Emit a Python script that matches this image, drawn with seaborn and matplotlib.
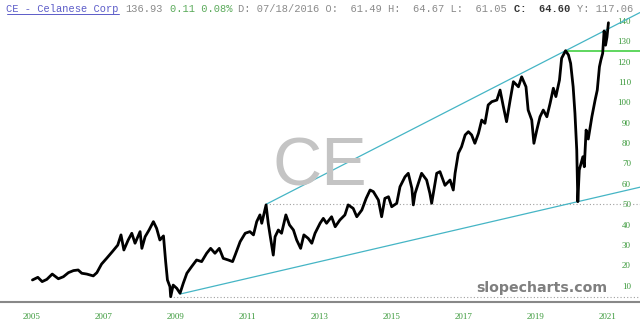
import numpy as np
import pandas as pd
import matplotlib
matplotlib.use('Agg')
import matplotlib.pyplot as plt
import seaborn as sns

# CE daily closes (decimal year, price)
year = [2005.02, 2005.17, 2005.29, 2005.42, 2005.57, 2005.74, 2005.88, 2006.02, 2006.16, 2006.29,
        2006.39, 2006.53, 2006.71, 2006.81, 2006.94, 2007.08, 2007.24, 2007.39, 2007.48, 2007.56,
        2007.68, 2007.78, 2007.87, 2008.01, 2008.06, 2008.15, 2008.26, 2008.38, 2008.47, 2008.56,
        2008.66, 2008.72, 2008.77, 2008.84, 2008.86, 2008.93, 2009.03, 2009.12, 2009.21, 2009.31,
        2009.44, 2009.58, 2009.72, 2009.86, 2009.97, 2010.09, 2010.21, 2010.32, 2010.46, 2010.58,
        2010.65, 2010.79, 2010.93, 2011.06, 2011.16, 2011.25, 2011.34, 2011.39, 2011.51, 2011.57,
        2011.62, 2011.71, 2011.76, 2011.85, 2011.94, 2012.06, 2012.16, 2012.27, 2012.36, 2012.47,
        2012.56, 2012.68, 2012.78, 2012.87, 2013.01, 2013.10, 2013.19, 2013.33, 2013.43, 2013.56,
        2013.70, 2013.79, 2013.93, 2014.03, 2014.17, 2014.29, 2014.40, 2014.49, 2014.63, 2014.72,
        2014.81, 2014.91, 2015.00, 2015.14, 2015.23, 2015.37, 2015.46, 2015.56, 2015.60, 2015.65,
        2015.83, 2015.97, 2016.06, 2016.11, 2016.25, 2016.34, 2016.48, 2016.62, 2016.71, 2016.76,
        2016.85, 2016.94, 2017.04, 2017.13, 2017.22, 2017.31, 2017.41, 2017.50, 2017.59, 2017.68,
        2017.78, 2017.92, 2018.01, 2018.10, 2018.19, 2018.29, 2018.38, 2018.52, 2018.61, 2018.73,
        2018.79, 2018.89, 2018.95, 2019.03, 2019.12, 2019.21, 2019.31, 2019.40, 2019.49, 2019.56,
        2019.66, 2019.72, 2019.83, 2019.91, 2019.97, 2020.04, 2020.09, 2020.14, 2020.17, 2020.21,
        2020.31, 2020.35, 2020.40, 2020.46, 2020.56, 2020.65, 2020.71, 2020.77, 2020.81, 2020.86,
        2020.90, 2020.94, 2020.98, 2021.02]
close = [12.9, 14.2, 12.1, 13.2, 15.8, 13.5, 14.5, 16.5, 17.5, 17.8,
         16.2, 15.8, 14.9, 16.5, 20.7, 23.5, 26.8, 30.0, 35.0, 27.6,
         32.5, 35.8, 30.9, 36.6, 28.4, 34.1, 37.4, 41.5, 38.2, 32.5,
         34.5, 22.0, 12.9, 9.6, 4.7, 10.4, 8.8, 6.4, 11.3, 16.2,
         19.4, 22.7, 21.9, 26.0, 28.4, 26.0, 28.4, 23.5, 22.7, 21.9,
         25.1, 31.7, 35.8, 36.6, 35.0, 41.5, 44.8, 40.7, 49.7, 40.7,
         35.0, 25.1, 34.1, 37.4, 35.8, 44.8, 39.9, 37.4, 32.5, 28.4,
         35.0, 33.3, 30.9, 35.8, 40.7, 43.1, 40.7, 43.9, 39.0, 42.3,
         44.8, 49.7, 48.0, 43.9, 47.2, 52.9, 57.0, 56.2, 52.1, 43.9,
         52.9, 53.7, 48.8, 50.5, 58.6, 63.5, 65.2, 57.8, 49.7, 55.4,
         65.2, 61.9, 55.4, 50.5, 65.2, 66.0, 59.3, 61.9, 57.0, 65.2,
         75.0, 78.2, 84.0, 85.6, 84.0, 79.9, 84.8, 91.3, 89.7, 98.7,
         100.3, 101.1, 106.0, 98.0, 90.5, 101.1, 110.1, 107.6, 112.5, 107.6,
         96.2, 91.3, 79.9, 86.4, 92.9, 96.2, 92.9, 99.5, 106.9, 102.8,
         110.9, 121.6, 125.3, 123.2, 119.1, 107.6, 94.6, 76.6, 51.3, 66.8,
         73.3, 68.4, 86.4, 82.0, 92.9, 101.1, 106.0, 117.4, 120.7, 124.0,
         135.0, 128.0, 132.0, 139.0]

# trend line anchors (year, price)
upper_x = [2011.51, 2019.83]
upper_y = [50.0, 125.3]
lower_x = [2009.12, 2020.17]
lower_y = [6.0, 51.3]
# horizontal levels: (start year, price)
dotted_levels = [(2011.51, 50.0), (2008.84, 4.7)]
green_level = (2019.83, 125.3)

yticks = list(range(10, 150, 10))
xticks = list(range(2005, 2022, 2))

header_parts = [
    (0, 'CE - Celanese Corp', '#5b5bc8', 'normal'),
    (19, '136.93', '#8a8a8a', 'normal'),
    (26, '0.11 0.08%', '#5aaa5a', 'normal'),
    (37, 'D: 07/18/2016 O:  61.49 H:  64.67 L:  61.05', '#8a8a8a', 'normal'),
    (81, 'C:  64.60', '#333333', 'bold'),
    (91, 'Y: 117.06', '#8a8a8a', 'normal'),
]

df = pd.DataFrame({'year': year, 'close': close})

sns.set_style('white')
plt.rcParams['font.family'] = ['DejaVu Sans']

W, H = 640, 331
fig = plt.figure(figsize=(6.4, 3.31), dpi=100)
ax = fig.add_axes([0, 29.5 / H, 1, 301.5 / H])
x0, x1 = 2004.119, 2021.897
ax.set_xlim(x0, x1)
ax.set_ylim(2.35, 150.15)

# watermark
fig.text(320 / W, 1 - 185 / H, 'CE', family='Liberation Sans', fontsize=49,
         color='#c4c4c4', ha='center', va='baseline', zorder=0)
fig.text(607 / W, 1 - 292 / H, 'slopecharts.com', family='DejaVu Sans', fontweight='bold',
         fontsize=10.2, color='#7f7f7f', ha='right', va='baseline')

# horizontal levels
for sx, lvl in dotted_levels:
    ax.plot([sx, x1], [lvl, lvl], color='#a0a0a0', lw=0.8, ls=(0, (1, 2)), zorder=2)
ax.plot([green_level[0], x1], [green_level[1]] * 2, color='#33cc33', lw=1.1, zorder=2)

# trend lines, extended to the right edge
for xs, ys in [(upper_x, upper_y), (lower_x, lower_y)]:
    slope = (ys[1] - ys[0]) / (xs[1] - xs[0])
    ax.plot([xs[0], x1], [ys[0], ys[1] + slope * (x1 - xs[1])], color='#45b5c5', lw=0.9, zorder=3)

sns.lineplot(x='year', y='close', data=df, color='black', linewidth=2.0,
             estimator=None, sort=False, ax=ax, zorder=4)

ax.set_xlabel('')
ax.set_ylabel('')
for s in ['top', 'left', 'right']:
    ax.spines[s].set_visible(False)
ax.spines['bottom'].set_color('#888888')
ax.spines['bottom'].set_linewidth(1.5)

ax.set_xticks(xticks)
ax.set_xticklabels([str(t) for t in xticks], family='Liberation Serif')
ax.tick_params(axis='x', length=0, pad=8.0, labelsize=6.5, labelcolor='#3c9a3c')
ax.yaxis.tick_right()
ax.set_yticks(yticks)
ax.set_yticklabels([str(t) for t in yticks], family='Liberation Serif')
ax.tick_params(axis='y', length=0, pad=-6.5, labelsize=6.5, labelcolor='#3c9a3c')
plt.setp(ax.get_yticklabels(), ha='right')

# header line (monospace, one char = 6.27 px)
for idx, txt, col, wt in header_parts:
    fig.text((6.5 + idx * 6.27) / W, 1 - 9 / H, txt, family='Liberation Mono', fontsize=7.5,
             color=col, fontweight=wt, ha='left', va='center')
fig.add_artist(plt.Line2D([6.5 / W, (6.5 + 18 * 6.27) / W], [1 - 13.5 / H] * 2,
                          color='#5b5bc8', lw=0.7))

fig.savefig('out.png', dpi=100)
